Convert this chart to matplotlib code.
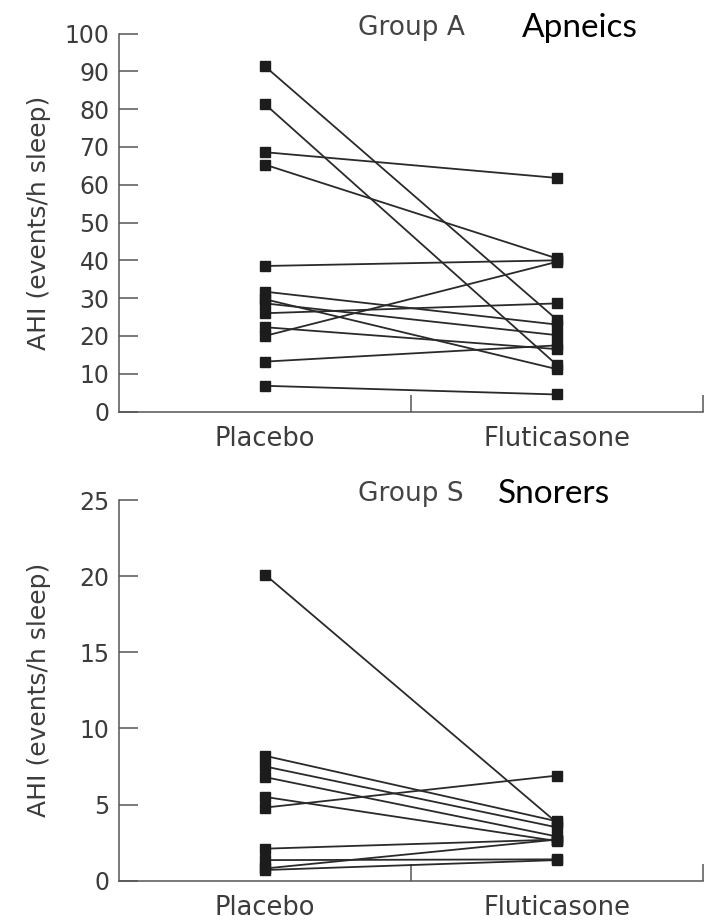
import numpy as np
import matplotlib
matplotlib.use("Agg")
import matplotlib.pyplot as plt


# group A (apneics), AHI per subject
a_placebo = [91.3, 81.3, 68.6, 65.3, 38.5, 31.7, 29.7, 28.6, 26.0, 22.3, 20.0, 13.2, 6.8]
a_flutic = [24.3, 12.3, 61.8, 40.5, 40.0, 23.0, 11.2, 20.2, 28.6, 16.5, 39.6, 17.5, 4.5]

# group S (snorers)
s_placebo = [20.1, 8.2, 7.5, 6.8, 5.5, 4.8, 2.1, 1.35, 0.8, 0.7]
s_flutic = [3.8, 3.9, 3.5, 2.9, 2.6, 6.9, 2.7, 1.4, 2.7, 1.35]

conditions = ["Placebo", "Fluticasone"]
a_yticks = list(range(0, 101, 10))
s_yticks = list(range(0, 26, 5))

TXT = "#3c3c3c"
plt.rcParams["font.family"] = ["DejaVu Sans"]

fig = plt.figure(figsize=(7.05, 9.21), dpi=100)
ax_a = fig.add_axes([0.169, 0.5532, 0.828, 0.4104])
ax_s = fig.add_axes([0.169, 0.0438, 0.828, 0.4133])


def draw_panel(ax, before, after, yticks, group_txt, label_txt, xtxt, ytxt):
    for b, f in zip(before, after):
        ax.plot([1, 2], [b, f], color="#2a2a2a", lw=1.3,
                marker="s", ms=7, mfc="#1c1c1c", mec="#1c1c1c", clip_on=False)
    ax.set_xlim(0.5, 2.5)
    ax.set_ylim(yticks[0], yticks[-1])
    ax.set_yticks(yticks)
    ax.set_xticks([1, 2])
    ax.set_xticklabels(conditions)
    ax.set_xticks([1.5, 2.5], minor=True)
    ax.tick_params(axis="x", which="major", length=0, pad=10.5, labelsize=18.5, labelcolor=TXT)
    ax.tick_params(axis="x", which="minor", direction="in", length=12, width=1.1, color="#555555")
    ax.tick_params(axis="y", direction="in", length=13.5, width=1.1, color="#555555",
                   pad=7, labelsize=17, labelcolor=TXT)
    for side in ["top", "right"]:
        ax.spines[side].set_visible(False)
    for side in ["left", "bottom"]:
        ax.spines[side].set_color("#555555")
        ax.spines[side].set_linewidth(1.1)
    ax.set_ylabel("AHI (events/h sleep)", fontsize=18, color=TXT)
    ax.yaxis.set_label_coords(-0.117, 0.5)
    ax.text(1.5, ytxt, group_txt, ha="center", va="center", fontsize=19,
            color="#444444", clip_on=False)
    ax.text(xtxt, ytxt, label_txt, ha="center", va="center", fontsize=24,
            color="black", family="Lato", clip_on=False)


draw_panel(ax_a, a_placebo, a_flutic, a_yticks, "Group A", "Apneics", 2.08, 101.4)
draw_panel(ax_s, s_placebo, s_flutic, s_yticks, "Group S", "Snorers", 1.99, 25.4)

fig.savefig("out.png", dpi=100)
